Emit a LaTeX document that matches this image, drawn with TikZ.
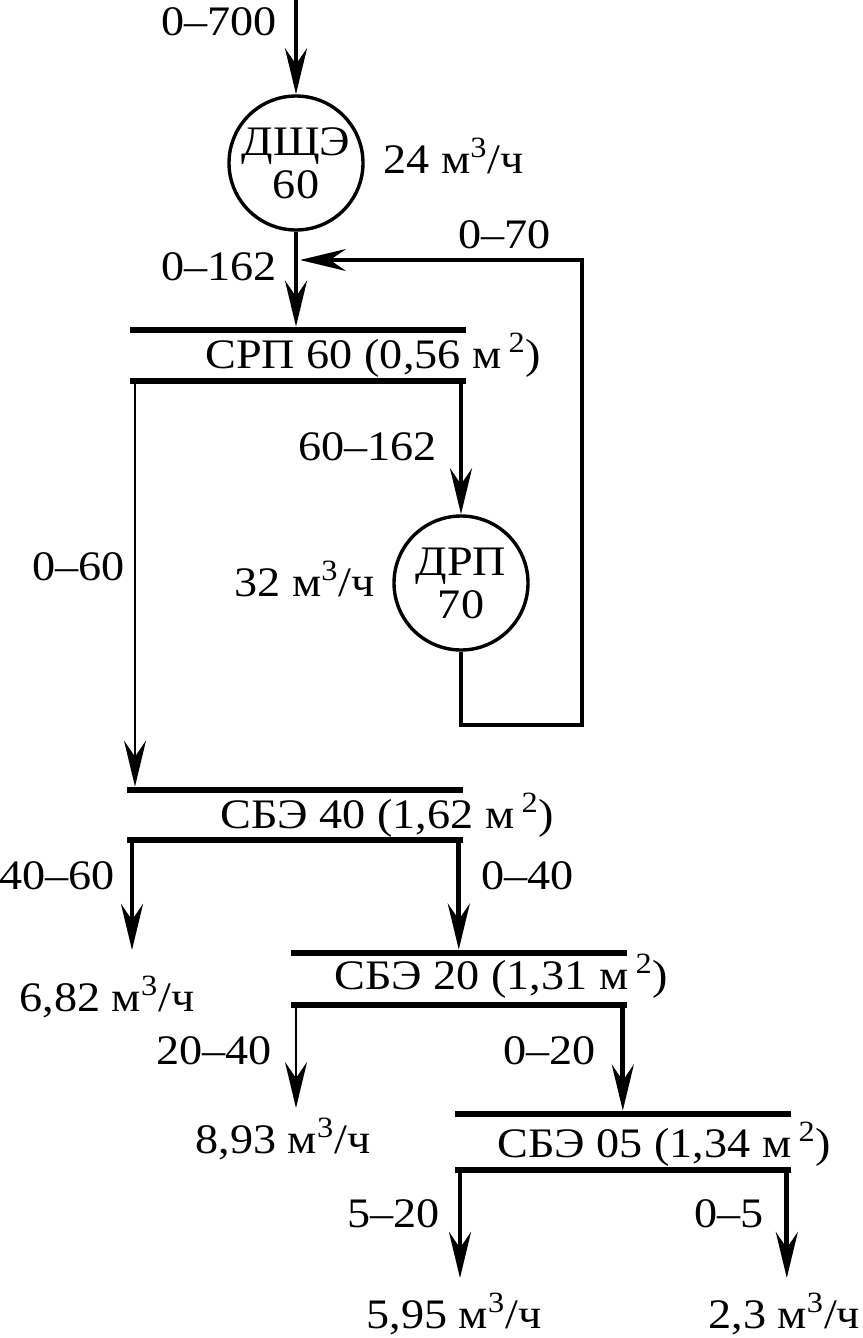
\documentclass[tikz,border=0pt]{standalone}
\usepackage{fontspec}
\setmainfont{Liberation Serif}[FakeStretch=1.1]
\usetikzlibrary{arrows.meta,positioning}

\begin{document}
\begin{tikzpicture}[x=0.5pt,y=-0.5pt,
  every node/.style={font=\fontsize{21}{21.5}\selectfont,inner sep=0pt},
  mill/.style={draw,circle,line width=1.7pt,minimum size=67pt,align=center},
  sieve/.style={fill=black,anchor=west,minimum width=168pt,minimum height=3pt},
  arr/.style={-{Stealth[length=23pt,width=11pt,inset=8pt]},line width=2.4pt},
  thinarr/.style={arr,line width=1.2pt},
  recyc/.style={arr,line width=1.8pt}]
\useasboundingbox (0,0) rectangle (862,1338);
\node[mill] (dsche) at (296,163) {ДЩЭ\\60};
\node[mill] (drp) at (461,583) {ДРП\\70};
\node[sieve] (srpA) at (130,330) {};
\node[sieve] (srpB) at (130,381) {};
\node[sieve] (sbe40A) at (127,790) {};
\node[sieve] (sbe40B) at (127,840) {};
\node[sieve] (sbe20A) at (291,953) {};
\node[sieve] (sbe20B) at (291,1005) {};
\node[sieve] (sbe05A) at (455,1114) {};
\node[sieve] (sbe05B) at (455,1170) {};
\node[anchor=base west] (srpT) at (205,368) {СРП 60 (0,56 м\,\textsuperscript{2})};
\node[anchor=base west] (sbe40T) at (220,828) {СБЭ 40 (1,62 м\,\textsuperscript{2})};
\node[anchor=base west] (sbe20T) at (334,989) {СБЭ 20 (1,31 м\,\textsuperscript{2})};
\node[anchor=base west] (sbe05T) at (497,1157) {СБЭ 05 (1,34 м\,\textsuperscript{2})};
\coordinate (feed) at (296,0);
\coordinate (mix) at (296,260);
\coordinate (ret) at (582,725);
\coordinate (c60) at ([xshift=2.5pt]srpB.south west);
\coordinate (c40a) at ([xshift=2.5pt]sbe40B.south west);
\coordinate (c40b) at ([xshift=-2.5pt]sbe40B.south east);
\coordinate (c20a) at ([xshift=2.5pt]sbe20B.south west);
\coordinate (c20b) at ([xshift=-2.5pt]sbe20B.south east);
\coordinate (c05a) at ([xshift=2.5pt]sbe05B.south west);
\coordinate (c05b) at ([xshift=-2.5pt]sbe05B.south east);
\coordinate (out40) at (c40a|-0,950);
\coordinate (out20) at (c20a|-0,1108);
\coordinate (out05a) at (c05a|-0,1278);
\coordinate (out05b) at (c05b|-0,1278);
\draw[arr] (feed)--(dsche.north);
\draw[arr] (dsche.south)--(dsche.south|-srpA.north);
\draw[recyc] (drp.south)|-(ret)|-([xshift=2pt]mix);
\draw[arr] (drp.north|-srpB.south)--(drp.north);
\draw[thinarr] (c60)--(c60|-sbe40A.north);
\draw[arr] (c40a)--(out40);
\draw[arr] (c40b)--(c40b|-sbe20A.north);
\draw[thinarr] (c20a)--(out20);
\draw[arr] (c20b)--(c20b|-sbe05A.north);
\draw[arr] (c05a)--(out05a);
\draw[arr] (c05b)--(out05b);
\node[anchor=base east] (q700) at (277,36) {0--700};
\node[anchor=base west] (q24) at (383,173) {24 м\textsuperscript{3}/ч};
\node[anchor=base east] (q162) at (277,280) {0--162};
\node[anchor=base west] (q70) at (458,248) {0--70};
\node[anchor=base east] (q60162) at (437,460) {60--162};
\node[anchor=base east] (q32) at (375,596) {32 м\textsuperscript{3}/ч};
\node[anchor=base east] (q060) at (125,580) {0--60};
\node[anchor=base east] (q4060) at (115,889) {40--60};
\node[anchor=base west] (q040) at (481,889) {0--40};
\node[anchor=base west] (q682) at (19,1011) {6,82 м\textsuperscript{3}/ч};
\node[anchor=base east] (q2040) at (272,1064) {20--40};
\node[anchor=base east] (q020) at (596,1064) {0--20};
\node[anchor=base west] (q893) at (195,1153) {8,93 м\textsuperscript{3}/ч};
\node[anchor=base east] (q520) at (440,1227) {5--20};
\node[anchor=base east] (q05) at (764,1227) {0--5};
\node[anchor=base west] (q595) at (366,1328) {5,95 м\textsuperscript{3}/ч};
\node[anchor=base west] (q23) at (708,1328) {2,3 м\textsuperscript{3}/ч};
\end{tikzpicture}
\end{document}
